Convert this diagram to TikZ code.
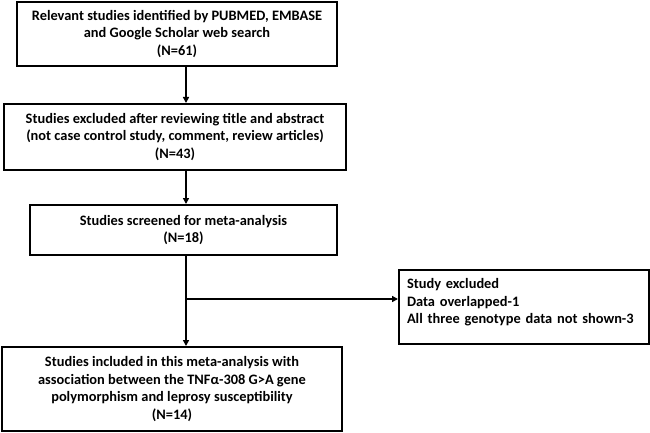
\documentclass[tikz,border=0pt]{standalone}
\usepackage{fontspec}
\setmainfont{Carlito}
\usetikzlibrary{arrows.meta}
\begin{document}
\begin{tikzpicture}[x=1pt,y=-1pt,
  box/.style={draw=black, line width=2pt, rectangle, inner sep=0pt, align=center,
    font=\fontsize{14.4}{17.8}\selectfont\bfseries},
  arr/.style={line width=1.5pt, -{Triangle[length=6pt,width=6pt]}}]
\useasboundingbox (0,0) rectangle (650,433);
\node[box, minimum width=320pt, minimum height=64pt] (b1) at (177,34)
  {Relevant studies identified by PUBMED, EMBASE\\and Google Scholar web search\\(N=61)};
\node[box, minimum width=342pt, minimum height=66pt] (b2) at (175,137)
  {Studies excluded after reviewing title and abstract\\(not case control study, comment, review articles)\\(N=43)};
\node[box, minimum width=307pt, minimum height=50pt] (b3) at (183.5,230)
  {Studies screened for meta-analysis\\(N=18)};
\node[box, minimum width=250pt, minimum height=74pt, align=left, text width=234pt] (b4) at (524,307)
  {Study excluded\\Data overlapped-1\\All three genotype data not shown-3\\[-6pt]\mbox{}};
\node[box, minimum width=340pt, minimum height=84pt] (b5) at (172,389)
  {Studies included in this meta-analysis with\\association between the TNFα-308 G>A gene\\polymorphism and leprosy susceptibility\\(N=14)};
\coordinate (axis) at (186,0);
\coordinate (br) at (186,299);
\draw[arr] (b1.south -| axis) -- (b2.north -| axis);
\draw[arr] (b2.south -| axis) -- (b3.north -| axis);
\draw[arr] (b3.south -| axis) -- (b5.north -| axis);
\draw[arr] (br) -- (b4.west |- br);
\end{tikzpicture}
\end{document}
